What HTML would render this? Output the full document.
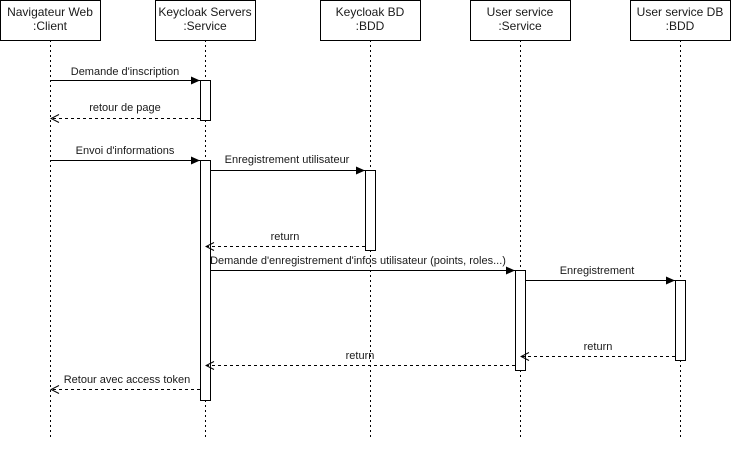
<!DOCTYPE html>
<html><head><meta charset="utf-8"><style>
html,body{margin:0;padding:0;background:#fff;}
svg text{font-family:"Liberation Sans",sans-serif;font-size:12px;fill:#1a1a1a;}
svg text.l{font-size:11px;}
</style></head><body>
<svg width="742" height="453" viewBox="0 0 742 453" xmlns="http://www.w3.org/2000/svg">
<defs>
<marker id="f" markerWidth="10" markerHeight="8" refX="9" refY="4" orient="auto" markerUnits="userSpaceOnUse"><path d="M0,0 L9,4 L0,8 Z" fill="#000"/></marker>
<marker id="o" markerWidth="10" markerHeight="10" refX="9" refY="5" orient="auto" markerUnits="userSpaceOnUse"><path d="M1,1 L9,5 L1,9" fill="none" stroke="#000" stroke-dasharray="none"/></marker>
</defs>
<g stroke="#000" stroke-width="1" stroke-dasharray="2,3" fill="none">
<line x1="50.5" y1="40" x2="50.5" y2="440"/>
<line x1="205.5" y1="40" x2="205.5" y2="440"/>
<line x1="370.5" y1="40" x2="370.5" y2="440"/>
<line x1="520.5" y1="40" x2="520.5" y2="440"/>
<line x1="680.5" y1="40" x2="680.5" y2="440"/>
</g>
<g fill="#fff" stroke="#000">
<rect x="0.5" y="0.5" width="100" height="40"/>
<rect x="155.5" y="0.5" width="100" height="40"/>
<rect x="320.5" y="0.5" width="100" height="40"/>
<rect x="470.5" y="0.5" width="100" height="40"/>
<rect x="630.5" y="0.5" width="100" height="40"/>
</g>
<g text-anchor="middle">
<text x="50" y="16">Navigateur Web</text><text x="50" y="30">:Client</text>
<text x="205" y="16">Keycloak Servers</text><text x="205" y="30">:Service</text>
<text x="370" y="16">Keycloak BD</text><text x="370" y="30">:BDD</text>
<text x="520" y="16">User service</text><text x="520" y="30">:Service</text>
<text x="680" y="16">User service DB</text><text x="680" y="30">:BDD</text>
</g>
<g fill="#fff" stroke="#000">
<rect x="200.5" y="80.5" width="10" height="40"/>
<rect x="200.5" y="160.5" width="10" height="240"/>
<rect x="365.5" y="170.5" width="10" height="80"/>
<rect x="515.5" y="270.5" width="10" height="100"/>
<rect x="675.5" y="280.5" width="10" height="80"/>
</g>
<g stroke="#000" fill="none">
<line x1="50" y1="80.5" x2="200" y2="80.5" marker-end="url(#f)"/>
<line x1="200" y1="118.5" x2="51" y2="118.5" stroke-dasharray="3,3" marker-end="url(#o)"/>
<line x1="50" y1="160.5" x2="200" y2="160.5" marker-end="url(#f)"/>
<line x1="210" y1="170.5" x2="365" y2="170.5" marker-end="url(#f)"/>
<line x1="365" y1="246.5" x2="206" y2="246.5" stroke-dasharray="3,3" marker-end="url(#o)"/>
<line x1="210" y1="270.5" x2="515" y2="270.5" marker-end="url(#f)"/>
<line x1="525" y1="280.5" x2="675" y2="280.5" marker-end="url(#f)"/>
<line x1="675" y1="356.5" x2="521" y2="356.5" stroke-dasharray="3,3" marker-end="url(#o)"/>
<line x1="515" y1="365.5" x2="206" y2="365.5" stroke-dasharray="3,3" marker-end="url(#o)"/>
<line x1="200" y1="389.5" x2="51" y2="389.5" stroke-dasharray="3,3" marker-end="url(#o)"/>
</g>
<g text-anchor="middle">
<text class="l" x="125" y="75">Demande d'inscription</text>
<text class="l" x="125" y="111">retour de page</text>
<text class="l" x="125" y="154">Envoi d'informations</text>
<text class="l" x="287" y="163">Enregistrement utilisateur</text>
<text class="l" x="285" y="240">return</text>
<text class="l" x="358" y="264">Demande d'enregistrement d'infos utilisateur (points, roles...)</text>
<text class="l" x="597" y="274">Enregistrement</text>
<text class="l" x="598" y="350">return</text>
<text class="l" x="360" y="359">return</text>
<text class="l" x="127" y="383">Retour avec access token</text>
</g>
</svg>
</body></html>
